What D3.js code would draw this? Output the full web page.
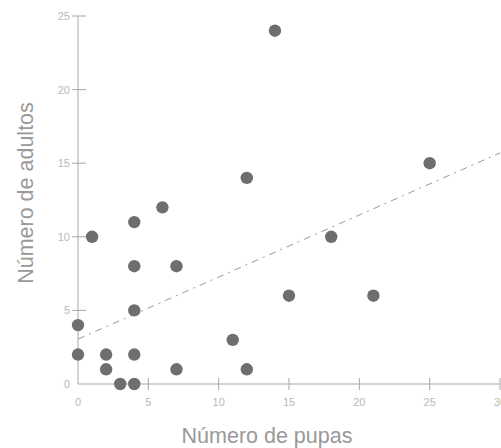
<!DOCTYPE html>
<html><head><meta charset="utf-8">
<script src="https://cdn.jsdelivr.net/npm/d3@7"></script>
<style>body{margin:0;background:#fff}svg{display:block}</style>
</head><body>
<svg id="c" width="501" height="448"></svg>
<script>
const pupas   = [0,0,1,2,2,3,4,4,4,4,4,6,7,7,11,12,12,14,15,18,21,25];
const adultos = [4,2,10,2,1,0,0,2,5,8,11,12,8,1,3,1,14,24,6,10,6,15];
const lineX = [0, 30];
const lineY = [3.05, 15.7];
const xTicks = [0,5,10,15,20,25,30];
const yTicks = [0,5,10,15,20,25];

const svg = d3.select("#c");
const x = d3.scaleLinear().domain([0,30]).range([78,500]);
const y = d3.scaleLinear().domain([0,25]).range([384,16]);

const axisCol = "#a8a8a8", labCol = "#b8b8b8";
svg.append("line").attr("x1",x(0)).attr("x2",x(30)).attr("y1",y(0)).attr("y2",y(0))
  .attr("stroke",axisCol).attr("stroke-width",1);
svg.append("line").attr("x1",x(0)).attr("x2",x(0)).attr("y1",y(0)).attr("y2",y(25))
  .attr("stroke",axisCol).attr("stroke-width",1);
svg.selectAll(".xt").data(xTicks.filter(d=>d>0)).join("line")
  .attr("x1",d=>x(d)).attr("x2",d=>x(d)).attr("y1",y(0)-6).attr("y2",y(0)+6)
  .attr("stroke",axisCol);
svg.selectAll(".xl").data(xTicks).join("text")
  .attr("x",d=>x(d)).attr("y",y(0)+22).attr("text-anchor","middle")
  .attr("font-family","Liberation Sans, Arial, sans-serif").attr("font-size",11)
  .attr("fill",labCol).text(d=>d);
svg.selectAll(".yt").data(yTicks.filter(d=>d>0)).join("line")
  .attr("x1",x(0)-6).attr("x2",x(0)+8).attr("y1",d=>y(d)).attr("y2",d=>y(d))
  .attr("stroke",axisCol);
svg.selectAll(".yl").data(yTicks).join("text")
  .attr("x",x(0)-8).attr("y",d=>y(d)+4).attr("text-anchor","end")
  .attr("font-family","Liberation Sans, Arial, sans-serif").attr("font-size",11)
  .attr("fill",labCol).text(d=>d);
svg.append("path").attr("d",d3.line().x(d=>x(d[0])).y(d=>y(d[1]))(lineX.map((v,i)=>[v,lineY[i]])))
  .attr("fill","none").attr("stroke","#999").attr("stroke-width",1)
  .attr("stroke-dasharray","7,5,2,5");
svg.selectAll(".p").data(pupas.map((v,i)=>[v,adultos[i]])).join("circle")
  .attr("cx",d=>x(d[0])).attr("cy",d=>y(d[1])).attr("r",6.2).attr("fill","#6e6e6e");
svg.append("text").attr("x",267).attr("y",443).attr("text-anchor","middle")
  .attr("font-family","Liberation Sans, Arial, sans-serif").attr("font-size",21.5)
  .attr("fill","#999").text("Número de pupas");
svg.append("text").attr("transform","translate(33,193) rotate(-90)").attr("text-anchor","middle")
  .attr("font-family","Liberation Sans, Arial, sans-serif").attr("font-size",21.5)
  .attr("fill","#999").text("Número de adultos");
</script>
</body></html>
